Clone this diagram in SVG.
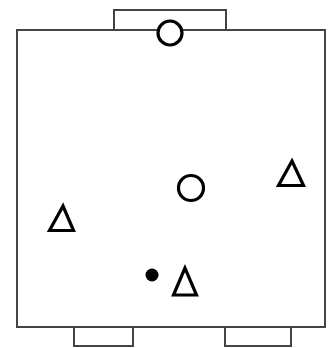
<svg xmlns="http://www.w3.org/2000/svg" width="330" height="348" viewBox="0 0 330 348">
<style>
.frame{fill:#fff;stroke:#444;stroke-width:2}
.sym{fill:none;stroke:#000;stroke-width:3.2;stroke-linejoin:miter}
</style>
<rect width="330" height="348" fill="#fff"/>
<g id="tab-top"><rect class="frame" x="114" y="10" width="112" height="21"/></g>
<g id="tab-bottom-left"><rect class="frame" x="74" y="326" width="59" height="20"/></g>
<g id="tab-bottom-right"><rect class="frame" x="225" y="326" width="66" height="20"/></g>
<g id="room"><rect class="frame" x="17" y="30" width="308" height="297"/></g>
<g id="circle-top"><circle class="sym" cx="170" cy="33" r="12" style="fill:#fff"/></g>
<g id="circle-mid"><circle class="sym" cx="191" cy="188" r="12.5"/></g>
<g id="tri-right"><polygon class="sym" points="292,161 278.5,185.5 303.5,185.5"/></g>
<g id="tri-left"><polygon class="sym" points="63,206 49.5,230.5 73.5,230.5"/></g>
<g id="tri-bottom"><polygon class="sym" points="185,268 173.5,295 196.5,295"/></g>
<g id="dot"><circle cx="152" cy="275" r="6.5" fill="#000"/></g>
<g id="connectors"></g>
</svg>
